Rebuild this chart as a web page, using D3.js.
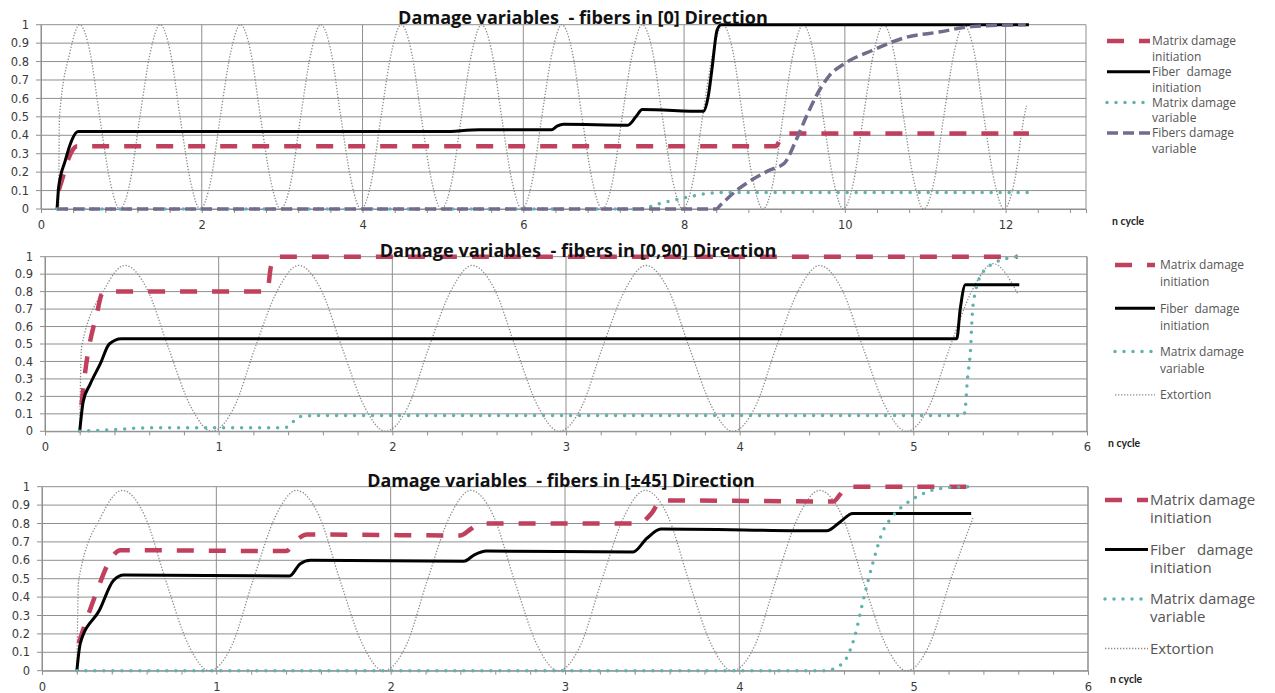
<!DOCTYPE html>
<html lang="en">
<head>
<meta charset="UTF-8">
<title>Damage variables</title>
<script src="https://cdn.jsdelivr.net/npm/d3@7/dist/d3.min.js"></script>
<style>
body {margin: 0; background: #fff;}
svg {display: block;}
text {white-space: pre;}
</style>
</head>
<body>
<svg width="1275" height="693"></svg>
<script>
// ---- data ----
var yTickValues = [0, 0.1, 0.2, 0.3, 0.4, 0.5, 0.6, 0.7, 0.8, 0.9, 1];
var yTickLabels = ['0', '0.1', '0.2', '0.3', '0.4', '0.5', '0.6', '0.7', '0.8', '0.9', '1'];
var xTicksTop = [0, 2, 4, 6, 8, 10, 12];
var xTicksLower = [0, 1, 2, 3, 4, 5, 6];

var titles = [
    'Damage variables  - fibers in [0] Direction',
    'Damage variables  - fibers in [0,90] Direction',
    'Damage variables  - fibers in [\u00b145] Direction'
];

// panel 1 : [0]
var p1MatrixInit = [[0.22,0.1],[0.27,0.17],[0.33,0.26],[0.38,0.31],[0.45,0.34],[9.14,0.34],[9.2,0.38],[9.26,0.41],[12.29,0.41]];
var p1FiberInit = [[0.2,0],[0.22,0.12],[0.3,0.26],[0.38,0.37],[0.46,0.42],[5.0,0.42],[5.45,0.43],[6.35,0.43],[6.42,0.45],[6.5,0.46],[7.3,0.455],[7.4,0.5],[7.48,0.54],[8.24,0.53],[8.3,0.61],[8.35,0.77],[8.41,0.97],[8.46,1],[12.29,1]];
var p1MatrixVar = [[0.2,0],[7.45,0],[7.7,0.03],[8.0,0.06],[8.3,0.085],[8.55,0.09],[12.3,0.09]];
var p1FiberVar = [[0.2,0],[8.4,0],[8.45,0.02],[8.68,0.11],[8.85,0.16],[9.06,0.21],[9.25,0.25],[9.39,0.37],[9.52,0.5],[9.64,0.61],[9.8,0.72],[10.0,0.79],[10.34,0.86],[10.75,0.93],[11.17,0.96],[11.58,0.99],[12.25,1]];
var p1Extortion = [[0.22,0],[0.23,0.5],[0.36,0.85],[0.48,1],[0.61,0.85],[0.73,0.5],[0.86,0.15],[0.98,0],
    [1.11,0.15],[1.23,0.5],[1.36,0.85],[1.48,1],[1.61,0.85],[1.73,0.5],[1.86,0.15],[1.98,0],
    [2.11,0.15],[2.23,0.5],[2.36,0.85],[2.48,1],[2.61,0.85],[2.73,0.5],[2.86,0.15],[2.98,0],
    [3.11,0.15],[3.23,0.5],[3.36,0.85],[3.48,1],[3.61,0.85],[3.73,0.5],[3.86,0.15],[3.98,0],
    [4.11,0.15],[4.23,0.5],[4.36,0.85],[4.48,1],[4.61,0.85],[4.73,0.5],[4.86,0.15],[4.98,0],
    [5.11,0.15],[5.23,0.5],[5.36,0.85],[5.48,1],[5.61,0.85],[5.73,0.5],[5.86,0.15],[5.98,0],
    [6.11,0.15],[6.23,0.5],[6.36,0.85],[6.48,1],[6.61,0.85],[6.73,0.5],[6.86,0.15],[6.98,0],
    [7.11,0.15],[7.23,0.5],[7.36,0.85],[7.48,1],[7.61,0.85],[7.73,0.5],[7.86,0.15],[7.98,0],
    [8.11,0.15],[8.23,0.5],[8.36,0.85],[8.48,1],[8.61,0.85],[8.73,0.5],[8.86,0.15],[8.98,0],
    [9.11,0.15],[9.23,0.5],[9.36,0.85],[9.48,1],[9.61,0.85],[9.73,0.5],[9.86,0.15],[9.98,0],
    [10.11,0.15],[10.23,0.5],[10.36,0.85],[10.48,1],[10.61,0.85],[10.73,0.5],[10.86,0.15],[10.98,0],
    [11.11,0.15],[11.23,0.5],[11.36,0.85],[11.48,1],[11.61,0.85],[11.73,0.5],[11.86,0.15],[11.98,0],
    [12.11,0.15],[12.23,0.5],[12.26,0.56]];

// panel 2 : [0,90]
var p2MatrixInit = [[0.21,0.15],[0.23,0.33],[0.3,0.68],[0.33,0.79],[0.38,0.8],[1.28,0.8],[1.3,0.94],[1.33,1],[5.6,1]];
var p2FiberInit = [[0.2,0],[0.22,0.17],[0.26,0.27],[0.32,0.39],[0.37,0.5],[0.44,0.53],[5.25,0.53],[5.27,0.7],[5.3,0.84],[5.61,0.84]];
var p2MatrixVar = [[0.2,0],[0.4,0.01],[0.6,0.02],[1.38,0.02],[1.47,0.085],[1.55,0.09],[5.29,0.09],[5.3,0.14],[5.31,0.28],[5.33,0.48],[5.34,0.68],[5.36,0.81],[5.4,0.91],[5.46,0.96],[5.54,0.99],[5.59,1]];
var p2Extortion = [[0.2,0],[0.21,0.48],[0.34,0.81],[0.46,0.95],[0.59,0.81],[0.71,0.48],[0.84,0.14],[0.96,0],
    [1.09,0.14],[1.21,0.48],[1.34,0.81],[1.46,0.95],[1.59,0.81],[1.71,0.48],[1.84,0.14],[1.96,0],
    [2.09,0.14],[2.21,0.48],[2.34,0.81],[2.46,0.95],[2.59,0.81],[2.71,0.48],[2.84,0.14],[2.96,0],
    [3.09,0.14],[3.21,0.48],[3.34,0.81],[3.46,0.95],[3.59,0.81],[3.71,0.48],[3.84,0.14],[3.96,0],
    [4.09,0.14],[4.21,0.48],[4.34,0.81],[4.46,0.95],[4.59,0.81],[4.71,0.48],[4.84,0.14],[4.96,0],
    [5.09,0.14],[5.21,0.48],[5.34,0.81],[5.46,0.96],[5.6,0.79]];

// panel 3 : [+-45]
var p3MatrixInit = [[0.21,0.15],[0.31,0.42],[0.39,0.6],[0.45,0.655],[1.4,0.65],[1.46,0.71],[1.52,0.74],[2.4,0.735],[2.46,0.77],[2.51,0.8],[3.42,0.8],[3.5,0.86],[3.55,0.925],[4.54,0.92],[4.58,0.96],[4.62,1],[5.32,1]];
var p3FiberInit = [[0.2,0],[0.22,0.15],[0.33,0.33],[0.41,0.49],[0.47,0.52],[1.42,0.515],[1.48,0.58],[1.54,0.6],[2.42,0.595],[2.48,0.63],[2.55,0.65],[3.39,0.645],[3.47,0.72],[3.55,0.77],[4.5,0.76],[4.58,0.81],[4.65,0.855],[5.33,0.855]];
var p3MatrixVar = [[0.2,0],[4.5,0],[4.56,0.02],[4.61,0.06],[4.66,0.18],[4.71,0.38],[4.77,0.6],[4.82,0.75],[4.88,0.84],[4.96,0.91],[5.06,0.965],[5.15,0.99],[5.32,1]];
var p3Extortion = [[0.2,0],[0.21,0.49],[0.34,0.84],[0.46,0.98],[0.59,0.84],[0.71,0.49],[0.84,0.14],[0.96,0],
    [1.09,0.14],[1.21,0.49],[1.34,0.84],[1.46,0.98],[1.59,0.84],[1.71,0.49],[1.84,0.14],[1.96,0],
    [2.09,0.14],[2.21,0.49],[2.34,0.84],[2.46,0.98],[2.59,0.84],[2.71,0.49],[2.84,0.14],[2.96,0],
    [3.09,0.14],[3.21,0.49],[3.34,0.84],[3.46,0.98],[3.59,0.84],[3.71,0.49],[3.84,0.14],[3.96,0],
    [4.09,0.14],[4.21,0.49],[4.34,0.84],[4.46,0.98],[4.59,0.84],[4.71,0.49],[4.84,0.14],[4.96,0],
    [5.09,0.14],[5.21,0.49],[5.34,0.83]];

// ---- styles ----
var styles = {
    extortion:  {stroke: '#8a8a8a', width: 1.3, dash: '1.3,1.7', cap: 'butt'},
    matrixInit: {stroke: '#c0405e', width: 4.5, dash: '17,15', cap: 'butt'},
    fiberInit:  {stroke: '#000000', width: 3, dash: null, cap: 'butt'},
    matrixVar:  {stroke: '#5fb3ad', width: 3.5, dash: '0,9', cap: 'round'},
    fiberVar:   {stroke: '#726c8c', width: 3.5, dash: '11,5', cap: 'butt'}
};

var panels = [
    {left: 41, right: 1086, top: 24.7, bottom: 209, xMax: 13, xMajor: xTicksTop, minorStep: 0.4,
     title: titles[0], titleX: 583, titleY: 24, titleW: 370,
     series: [['extortion', p1Extortion], ['matrixInit', p1MatrixInit], ['fiberInit', p1FiberInit], ['matrixVar', p1MatrixVar], ['fiberVar', p1FiberVar]],
     legend: {x1: 1107, x2: 1150, tx: 1152, y0: 41, gap: 30.7, line: 15.5, size: 12,
              items: [['matrixInit', ['Matrix damage', 'initiation']], ['fiberInit', ['Fiber  damage', 'initiation']],
                      ['matrixVar', ['Matrix damage', 'variable']], ['fiberVar', ['Fibers damage', 'variable']]]},
     ncycle: [1112, 225]},
    {left: 45, right: 1087, top: 256.7, bottom: 431.3, xMax: 6, xMajor: xTicksLower, minorStep: 0.2,
     title: titles[1], titleX: 578, titleY: 257, titleW: 397,
     series: [['extortion', p2Extortion], ['matrixInit', p2MatrixInit], ['fiberInit', p2FiberInit], ['matrixVar', p2MatrixVar]],
     legend: {x1: 1115, x2: 1155, tx: 1160, y0: 265, gap: 43.3, line: 17, size: 12,
              items: [['matrixInit', ['Matrix damage', 'initiation']], ['fiberInit', ['Fiber  damage', 'initiation']],
                      ['matrixVar', ['Matrix damage', 'variable']], ['extortion', ['Extortion']]]},
     ncycle: [1108, 447]},
    {left: 42, right: 1088, top: 486.7, bottom: 670.7, xMax: 6, xMajor: xTicksLower, minorStep: 0.2,
     title: titles[2], titleX: 561, titleY: 487, titleW: 388,
     series: [['extortion', p3Extortion], ['matrixInit', p3MatrixInit], ['fiberInit', p3FiberInit], ['matrixVar', p3MatrixVar]],
     legend: {x1: 1105, x2: 1148, tx: 1150, y0: 500, gap: 49.5, line: 18, size: 15,
              items: [['matrixInit', ['Matrix damage', 'initiation']], ['fiberInit', ['Fiber   damage', 'initiation']],
                      ['matrixVar', ['Matrix damage', 'variable']], ['extortion', ['Extortion']]]},
     ncycle: [1110, 683]}
];

var svg = d3.select('svg');

function applyStyle(sel, st) {
    sel.attr('fill', 'none')
        .attr('stroke', st.stroke)
        .attr('stroke-width', st.width)
        .attr('stroke-linecap', st.cap)
        .attr('stroke-linejoin', 'round');
    if (st.dash) sel.attr('stroke-dasharray', st.dash);
}

panels.forEach(function(p) {
    var x = d3.scaleLinear().domain([0, p.xMax]).range([p.left, p.right]);
    var y = d3.scaleLinear().domain([0, 1]).range([p.bottom, p.top]);
    var g = svg.append('g');

    // horizontal grid
    g.append('g').selectAll('line').data(yTickValues).enter().append('line')
        .attr('x1', p.left - 5).attr('x2', p.right)
        .attr('y1', function(d) { return y(d); }).attr('y2', function(d) { return y(d); })
        .attr('stroke', '#8f8f8f').attr('stroke-width', 1);
    // vertical grid at major ticks
    g.append('g').selectAll('line').data(p.xMajor).enter().append('line')
        .attr('x1', function(d) { return x(d); }).attr('x2', function(d) { return x(d); })
        .attr('y1', p.top).attr('y2', p.bottom)
        .attr('stroke', '#8f8f8f').attr('stroke-width', 1);
    // right border
    g.append('line').attr('x1', p.right).attr('x2', p.right).attr('y1', p.top).attr('y2', p.bottom)
        .attr('stroke', '#8f8f8f');

    // y axis
    var yAxis = d3.axisLeft(y).tickValues(yTickValues).tickSize(0).tickPadding(12)
        .tickFormat(function(d, i) { return yTickLabels[i]; });
    var ya = g.append('g').attr('transform', 'translate(' + p.left + ',0)').call(yAxis);
    ya.select('.domain').attr('stroke', '#8f8f8f');
    ya.selectAll('text').attr('font-family', 'DejaVu Sans, Verdana, sans-serif').attr('font-size', 11.5).attr('fill', '#3a3a3a');

    // x axis with minor ticks
    var minor = d3.range(0, p.xMax + 1e-9, p.minorStep);
    var xMinor = d3.axisBottom(x).tickValues(minor).tickSize(4).tickFormat('');
    var xm = g.append('g').attr('transform', 'translate(0,' + p.bottom + ')').call(xMinor);
    xm.select('.domain').attr('stroke', '#8f8f8f');
    xm.selectAll('line').attr('stroke', '#8f8f8f');
    var xLab = d3.axisBottom(x).tickValues(p.xMajor).tickSize(0).tickPadding(12).tickFormat(d3.format('d'));
    var xl = g.append('g').attr('transform', 'translate(0,' + p.bottom + ')').call(xLab);
    xl.select('.domain').remove();
    xl.selectAll('text').attr('font-family', 'DejaVu Sans, Verdana, sans-serif').attr('font-size', 11.5).attr('fill', '#3a3a3a');

    // series
    var line = d3.line()
        .x(function(d) { return x(d[0]); })
        .y(function(d) { return y(d[1]); })
        .curve(d3.curveMonotoneX);
    p.series.forEach(function(s) {
        g.append('path').datum(s[1]).attr('d', line).call(applyStyle, styles[s[0]]);
    });

    // title, sized to the width it takes in the picture
    var t = g.append('text').attr('x', p.titleX).attr('y', p.titleY)
        .attr('text-anchor', 'middle')
        .attr('font-family', 'Open Sans, sans-serif').attr('font-weight', 'bold')
        .attr('font-size', 16).attr('fill', '#111')
        .text(p.title);
    var w = t.node().getComputedTextLength();
    if (w > 0) t.attr('font-size', 16 * p.titleW / w);

    // legend
    var L = p.legend;
    L.items.forEach(function(it, i) {
        var cy = L.y0 + i * L.gap;
        g.append('line').attr('x1', L.x1).attr('x2', L.x2).attr('y1', cy).attr('y2', cy)
            .call(applyStyle, styles[it[0]]);
        it[1].forEach(function(tx, j) {
            g.append('text').attr('x', L.tx).attr('y', cy + j * L.line + L.size * 0.36)
                .attr('font-family', 'Open Sans, sans-serif').attr('font-size', L.size)
                .attr('fill', '#555').text(tx);
        });
    });

    g.append('text').attr('x', p.ncycle[0]).attr('y', p.ncycle[1])
        .attr('font-family', 'Lato, sans-serif').attr('font-weight', 'bold')
        .attr('font-size', 10.5).attr('fill', '#222').text('n cycle');
});
</script>
</body>
</html>
